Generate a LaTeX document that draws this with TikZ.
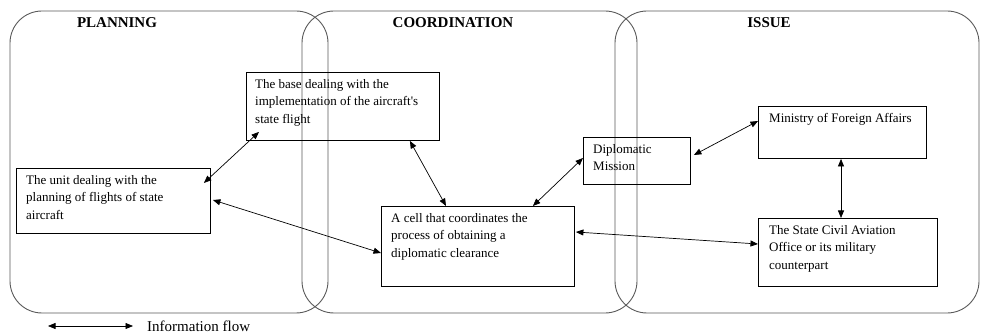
\documentclass[tikz,border=0pt]{standalone}
\usepackage{fontspec}
\setmainfont{Liberation Serif}
\usetikzlibrary{arrows.meta}
\begin{document}
\begin{tikzpicture}[x=1pt,y=-1pt,
 zone/.style={draw=black!65,line width=0.9pt,rounded corners=32pt},
 title/.style={font=\fontsize{15}{17}\selectfont\bfseries,inner sep=0pt},
 box/.style={draw,line width=0.9pt,anchor=north west,inner sep=0pt},
 txt/.style={anchor=north west,inner sep=0pt,align=left,font=\fontsize{13}{17.6}\selectfont},
 flow/.style={{Triangle[length=7.5pt,width=6pt]}-{Triangle[length=7.5pt,width=6pt]},line width=0.7pt}]
\useasboundingbox (0,0) rectangle (981,336);
% zones
\draw[zone] (10,11) rectangle (328,313);
\draw[zone] (302,11) rectangle (637,313);
\draw[zone] (615,11) rectangle (979,313);
\node[title] (tplan) at (117,23) {PLANNING};
\node[title] (tcoord) at (453,23) {COORDINATION};
\node[title] (tissue) at (769,23) {ISSUE};
% boxes
\node[box,minimum width=193pt,minimum height=68pt] (base) at (246,72) {};
\node[box,minimum width=194pt,minimum height=65pt] (unit) at (16,168) {};
\node[box,minimum width=193pt,minimum height=80pt] (cell) at (381,206) {};
\node[box,minimum width=107pt,minimum height=47pt] (dip) at (583,137) {};
\node[box,minimum width=168pt,minimum height=52pt] (min) at (758,106) {};
\node[box,minimum width=179pt,minimum height=68pt] (state) at (758,218) {};
% texts
\node[txt] (tbase) at ([shift={(9,7)}]base.north west) {The base dealing with the\\implementation of the aircraft\textquotesingle s\\state flight};
\node[txt] (tunit) at ([shift={(10,7)}]unit.north west) {The unit dealing with the\\planning of flights of state\\aircraft};
\node[txt] (tcell) at ([shift={(10,7)}]cell.north west) {A cell that coordinates the\\process of obtaining a\\diplomatic clearance};
\node[txt] (tdip) at ([shift={(10,7)}]dip.north west) {Diplomatic\\Mission};
\node[txt] (tmin) at ([shift={(11,7)}]min.north west) {Ministry of Foreign Affairs};
\node[txt] (tstate) at ([shift={(11,7)}]state.north west) {The State Civil Aviation\\Office or its military\\counterpart};
% connectors
\draw[flow] ([shift={(-7,15)}]unit.north east) -- ([shift={(13,-9)}]base.south west);
\draw[flow] ([shift={(2,32)}]unit.north east) -- ([shift={(0,47)}]cell.north west);
\draw[flow] ([xshift=-30pt]base.south east) -- ([xshift=65pt]cell.north west);
\draw[flow] ([xshift=-42pt]cell.north east) -- ([shift={(0,21)}]dip.north west);
\draw[flow] ([shift={(3,18)}]dip.north east) -- ([shift={(0,15)}]min.north west);
\draw[flow] ([xshift=83pt]min.south west) -- ([xshift=83pt]state.north west);
\draw[flow] ([shift={(1,26)}]cell.north east) -- ([shift={(0,26)}]state.north west);
% legend
\coordinate (la) at (48,326);
\coordinate (lb) at (133,326);
\draw[flow] (la) -- (lb);
\node[anchor=west,inner sep=0pt,font=\fontsize{15}{17}\selectfont] (legend) at (147,326) {Information flow};
\end{tikzpicture}
\end{document}
